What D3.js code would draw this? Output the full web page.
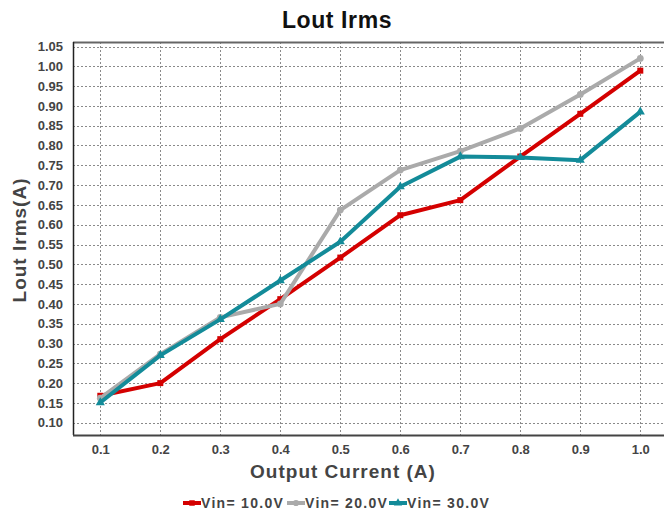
<!DOCTYPE html>
<html>
<head>
<meta charset="utf-8">
<script src="https://cdn.jsdelivr.net/npm/d3@7"></script>
<style>
  html, body { margin: 0; padding: 0; background: #fff; }
  svg { display: block; font-family: "Liberation Sans", Arial, sans-serif; }
</style>
</head>
<body>
<svg id="chart" width="664" height="511"></svg>
<script>
// Output current steps (A)
const currents = [0.1, 0.2, 0.3, 0.4, 0.5, 0.6, 0.7, 0.8, 0.9, 1.0];
// Inductor RMS current (A) for each input voltage
const vin10 = [0.168, 0.200, 0.311, 0.412, 0.517, 0.624, 0.662, 0.772, 0.880, 0.989];
const vin20 = [0.162, 0.273, 0.366, 0.400, 0.637, 0.738, 0.786, 0.843, 0.929, 1.020];
const vin30 = [0.151, 0.270, 0.361, 0.459, 0.557, 0.696, 0.772, 0.770, 0.763, 0.885];
const seriesNames = ["Vin= 10.0V", "Vin= 20.0V", "Vin= 30.0V"];
const yTicks = [0.10, 0.15, 0.20, 0.25, 0.30, 0.35, 0.40, 0.45, 0.50, 0.55, 0.60, 0.65, 0.70, 0.75, 0.80, 0.85, 0.90, 0.95, 1.00, 1.05];

const colors = ["#d40000", "#aaaaaa", "#138b99"];
const shapes = [d3.symbolSquare, d3.symbolCircle, d3.symbolTriangle];
const series = [vin10, vin20, vin30];

const svg = d3.select("#chart");
const plotL = 73, plotR = 664, plotT = 42, plotB = 435;

const x = d3.scaleLinear().domain([0.1, 1.0]).range([100.3, 640.3]);
const y = d3.scaleLinear().domain([0.10, 1.05]).range([422.7, 46.5]);

// Grid
const grid = svg.append("g").attr("stroke", "#8a8a8a").attr("stroke-width", 1)
  .attr("stroke-dasharray", "2,2").attr("shape-rendering", "crispEdges");
grid.selectAll("line.h").data(yTicks).join("line").attr("class", "h")
  .attr("x1", plotL).attr("x2", plotR)
  .attr("y1", d => Math.round(y(d)) + 0.5).attr("y2", d => Math.round(y(d)) + 0.5);
grid.selectAll("line.v").data(currents).join("line").attr("class", "v")
  .attr("y1", plotT).attr("y2", plotB)
  .attr("x1", d => Math.round(x(d)) + 0.5).attr("x2", d => Math.round(x(d)) + 0.5);

// Frame
svg.append("line").attr("x1", plotL).attr("x2", plotR).attr("y1", plotT + 0.5).attr("y2", plotT + 0.5)
  .attr("stroke", "#666").attr("stroke-width", 2);
svg.append("line").attr("x1", plotL + 0.5).attr("x2", plotL + 0.5).attr("y1", plotT).attr("y2", plotB)
  .attr("stroke", "#222").attr("stroke-width", 1.5);
svg.append("line").attr("x1", plotL).attr("x2", plotR).attr("y1", plotB + 0.5).attr("y2", plotB + 0.5)
  .attr("stroke", "#444").attr("stroke-width", 2);

// Axes (labels only)
const yAxis = d3.axisLeft(y).tickValues(yTicks).tickFormat(d3.format(".2f")).tickSize(0).tickPadding(0);
const gy = svg.append("g").attr("transform", `translate(${plotL - 10},0)`).call(yAxis);
gy.select(".domain").remove();
gy.selectAll("text").attr("font-size", 13).attr("font-weight", "bold").attr("fill", "#444")
  .attr("font-family", "Liberation Sans, Arial, sans-serif");

const xAxis = d3.axisBottom(x).tickValues(currents).tickFormat(d3.format(".1f")).tickSize(0).tickPadding(0);
const gx = svg.append("g").attr("transform", `translate(0,${plotB + 10})`).call(xAxis);
gx.select(".domain").remove();
gx.selectAll("text").attr("font-size", 13).attr("font-weight", "bold").attr("fill", "#444")
  .attr("font-family", "Liberation Sans, Arial, sans-serif");

// Series lines and markers
const line = d3.line().x((d, i) => x(currents[i])).y(d => y(d));
series.forEach((vals, k) => {
  svg.append("path").datum(vals).attr("d", line)
    .attr("fill", "none").attr("stroke", colors[k]).attr("stroke-width", 4)
    .attr("stroke-linejoin", "round");
  svg.append("g").selectAll("path").data(vals).join("path")
    .attr("d", d3.symbol().type(shapes[k]).size(36))
    .attr("transform", (d, i) => `translate(${x(currents[i])},${y(d)})`)
    .attr("fill", colors[k]);
});

// Titles
svg.append("text").attr("x", 337).attr("y", 28).attr("text-anchor", "middle")
  .attr("font-size", 23).attr("font-weight", "bold").attr("fill", "#111")
  .attr("letter-spacing", 0.6)
  .text("Lout Irms");
svg.append("text").attr("x", 343).attr("y", 478).attr("text-anchor", "middle")
  .attr("font-size", 19).attr("font-weight", "bold").attr("fill", "#444")
  .attr("letter-spacing", 1)
  .text("Output Current (A)");
svg.append("text").attr("transform", "translate(26,240) rotate(-90)").attr("text-anchor", "middle")
  .attr("font-size", 19).attr("font-weight", "bold").attr("fill", "#444")
  .attr("letter-spacing", 1)
  .text("Lout Irms(A)");

// Legend
const legendX = [183, 287, 389];
const lg = svg.append("g");
seriesNames.forEach((name, k) => {
  const g = lg.append("g").attr("transform", `translate(${legendX[k]},503)`);
  g.append("line").attr("x1", 0).attr("x2", 18).attr("y1", 0).attr("y2", 0)
    .attr("stroke", colors[k]).attr("stroke-width", 4);
  g.append("path").attr("d", d3.symbol().type(shapes[k]).size(30)).attr("transform", "translate(9,0)")
    .attr("fill", colors[k]);
  g.append("text").attr("x", 18).attr("y", 5).attr("font-size", 14).attr("font-weight", "bold")
    .attr("fill", "#444").attr("letter-spacing", 1.3).text(name);
});
</script>
</body>
</html>
